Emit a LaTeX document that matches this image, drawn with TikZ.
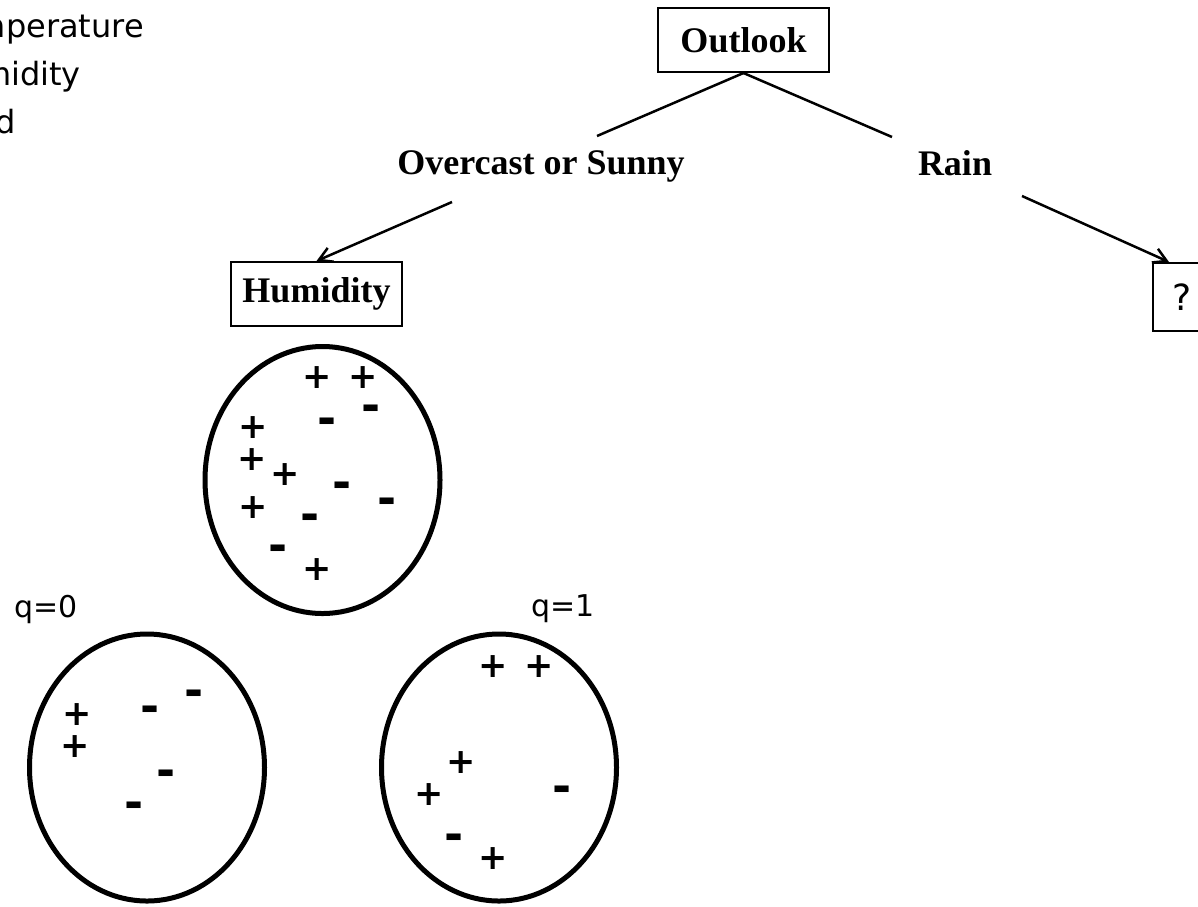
\documentclass[tikz,border=0pt]{standalone}
\usepackage{fontspec}
\setmainfont{Liberation Serif}
\newfontfamily\dvsans{DejaVu Sans}
\usetikzlibrary{arrows.meta,shapes.geometric,calc}
\newcommand\lblf{\fontsize{36}{40}\selectfont\bfseries}
\newcommand\tlf{\dvsans\fontsize{32}{38}\selectfont}
\newcommand\qf{\dvsans\fontsize{30}{36}\selectfont}
\newcommand\qmf{\dvsans\fontsize{36}{40}\selectfont}
\newcommand\plf{\dvsans\bfseries\fontsize{35}{38}\selectfont}
\newcommand\mif{\dvsans\bfseries\fontsize{46}{50}\selectfont}
\tikzset{
  treebox/.style={draw, line width=2pt, inner sep=0pt, minimum width=171pt, minimum height=64pt, font=\lblf},
  qbox/.style={draw, line width=2pt, inner sep=0pt, minimum width=58pt, minimum height=68pt, font=\qmf},
  lbl/.style={inner sep=0pt, anchor=base, font=\lblf},
  tl/.style={inner sep=0pt, anchor=base east, font=\tlf},
  qlbl/.style={inner sep=0pt, anchor=base west, font=\qf},
  pl/.style={inner sep=0pt, font=\plf},
  mi/.style={inner sep=0pt, font=\mif},
  ell/.style={draw, ellipse, line width=5pt, inner sep=0pt, minimum width=235pt, minimum height=267pt},
  conn/.style={line width=2.5pt},
  arr/.style={line width=2.5pt, -{Straight Barb[length=13pt,width=15pt]}}
}
\begin{document}
\begin{tikzpicture}[x=1pt,y=-1pt]
\useasboundingbox (0,0) rectangle (1198,906);
\clip (0,0) rectangle (1198,906);
% top-left list (clipped at the left edge, as in the reference)
\node[tl] (t1) at (144,37) {Temperature};
\node[tl] (t2) at (81,85) {Humidity};
\node[tl] (t3) at (16,133) {Wind};
% tree
\node[treebox] (outlook) at (743.5,40) {Outlook};
\node[lbl] (os) at (541,174) {Overcast or Sunny};
\node[lbl] (rain) at (955,175) {Rain};
\node[treebox] (hum) at (316.5,294) {Humidity};
\node[qbox] (q) at (1182,297) {?};
\coordinate (osEnd) at (597,136);
\coordinate (rnEnd) at (892,137);
\coordinate (osStart) at (452,202);
\coordinate (rnStart) at (1022,196);
\coordinate (qTop) at ($(q.north west)+(17,0)$);
\draw[conn] (outlook.south) -- (osEnd);
\draw[conn] (outlook.south) -- (rnEnd);
\draw[arr] (osStart) -- (hum.north);
\draw[arr] (rnStart) -- (qTop);
% ellipses
\node[ell] (s) at (322.5,480) {};
\node[ell] (s0) at (147,767.5) {};
\node[ell] (s1) at (499,767.5) {};
\node[qlbl] (q0) at (14,617) {q=0};
\node[qlbl] (q1) at (531,616) {q=1};
% top ellipse marks
\node[pl] (a1) at (317,378) {+};
\node[pl] (a2) at (363,378) {+};
\node[mi] (a3) at (371,413) {-};
\node[mi] (a4) at (327,426) {-};
\node[pl] (a5) at (253,428) {+};
\node[pl] (a6) at (252,460) {+};
\node[pl] (a7) at (285,475) {+};
\node[mi] (a8) at (342,490) {-};
\node[mi] (a9) at (387,506) {-};
\node[pl] (a10) at (253,508) {+};
\node[mi] (a11) at (310,522) {-};
\node[mi] (a12) at (278,553) {-};
\node[pl] (a13) at (317,570) {+};
% left ellipse marks
\node[pl] (b1) at (77,715) {+};
\node[pl] (b2) at (75,747) {+};
\node[mi] (b3) at (150,714) {-};
\node[mi] (b4) at (194,698) {-};
\node[mi] (b5) at (166,778) {-};
\node[mi] (b6) at (134,810) {-};
% right ellipse marks
\node[pl] (c1) at (493,667) {+};
\node[pl] (c2) at (539,667) {+};
\node[pl] (c3) at (461,763) {+};
\node[pl] (c4) at (429,795) {+};
\node[mi] (c5) at (562,794) {-};
\node[mi] (c6) at (454,842) {-};
\node[pl] (c7) at (493,859) {+};
\end{tikzpicture}
\end{document}
